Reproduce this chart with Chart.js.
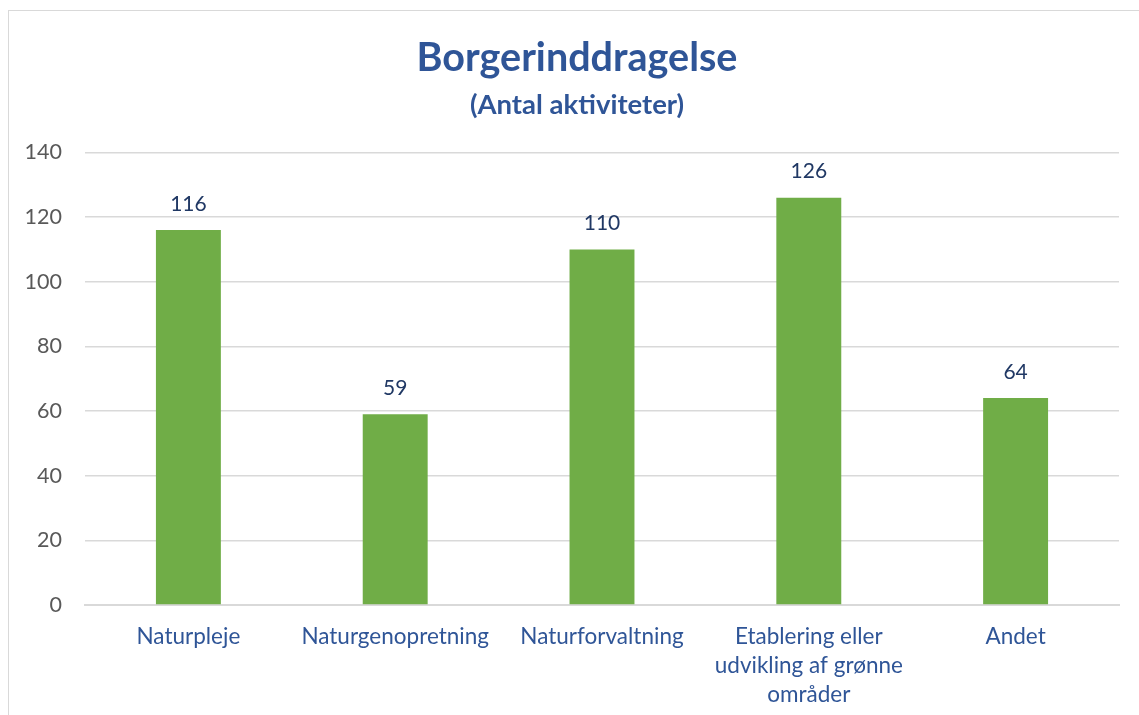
<!DOCTYPE html>
<html>
<head>
<meta charset="utf-8">
<script src="https://cdn.jsdelivr.net/npm/chart.js@4/dist/chart.umd.min.js"></script>
<style>
  html, body { margin: 0; padding: 0; background: #ffffff; overflow: hidden; }
  #frame { position: absolute; left: 8px; top: 10px; width: 1300px; height: 900px; border: 1px solid #d9d9d9; }
  #wrap { position: absolute; left: 0; top: 0; width: 1139px; height: 715px; }
</style>
</head>
<body>
<div id="frame"></div>
<div id="wrap"><canvas id="c" width="1139" height="715"></canvas></div>
<script>
const titleText = "Borgerinddragelse";
const subtitleText = "(Antal aktiviteter)";
const categories = [
  "Naturpleje",
  "Naturgenopretning",
  "Naturforvaltning",
  ["Etablering eller", "udvikling af grønne", "områder"],
  "Andet"
];
const values = [116, 59, 110, 126, 64];
const yTicks = [0, 20, 40, 60, 80, 100, 120, 140];

const FONT = "Lato, 'Open Sans', sans-serif";

const valueLabels = {
  id: 'valueLabels',
  afterDatasetsDraw(chart) {
    const ctx = chart.ctx;
    const meta = chart.getDatasetMeta(0);
    ctx.save();
    ctx.font = "21px " + FONT;
    ctx.fillStyle = "#203864";
    ctx.textAlign = "center";
    ctx.textBaseline = "middle";
    meta.data.forEach((bar, i) => {
      ctx.fillText(String(values[i]), bar.x, bar.y - 26);
    });
    ctx.restore();
  }
};

// shift the title/subtitle boxes so they are centred like the reference frame
const titleShift = {
  id: 'titleShift',
  afterLayout(chart) {
    chart.boxes.forEach(b => {
      if (b.options && typeof b.options.text === 'string' && b.isHorizontal && b.isHorizontal() && !b.axis) {
        b.left = 35;
        b.right = 1119;
      }
    });
  }
};

new Chart(document.getElementById('c'), {
  type: 'bar',
  data: {
    labels: categories,
    datasets: [{
      data: values,
      backgroundColor: '#70AD47',
      borderWidth: 0,
      categoryPercentage: 1,
      barPercentage: 0.314
    }]
  },
  options: {
    responsive: false,
    animation: false,
    devicePixelRatio: 1,
    layout: { padding: { left: 0, right: 20, top: 0, bottom: 0 } },
    plugins: {
      legend: { display: false },
      tooltip: { enabled: false },
      title: {
        display: true,
        text: titleText,
        color: '#2F5597',
        font: { family: FONT, size: 39.5, weight: 'bold', lineHeight: 1.2 },
        padding: { top: 35, bottom: 6 }
      },
      subtitle: {
        display: true,
        text: subtitleText,
        color: '#2F5597',
        font: { family: FONT, size: 27.5, weight: 'bold', lineHeight: 1.2 },
        padding: { top: 0, bottom: 31 }
      }
    },
    scales: {
      x: {
        grid: { display: false, drawTicks: false },
        border: { display: true, color: '#d9d9d9', width: 2 },
        ticks: {
          color: '#2F5597',
          font: { family: FONT, size: 22.5, lineHeight: 1.29 },
          padding: 17,
          maxRotation: 0,
          autoSkip: false
        },
        afterFit(s) { s.height = 110; }
      },
      y: {
        min: 0,
        max: 140,
        afterBuildTicks(s) { s.ticks = yTicks.map(v => ({ value: v })); },
        grid: { color: '#d9d9d9', lineWidth: 1.5, drawTicks: false },
        border: { display: false },
        ticks: {
          color: '#595959',
          font: { family: FONT, size: 21.5 },
          padding: 23
        },
        afterFit(s) { s.width = 85; }
      }
    }
  },
  plugins: [valueLabels, titleShift]
});
</script>
</body>
</html>
